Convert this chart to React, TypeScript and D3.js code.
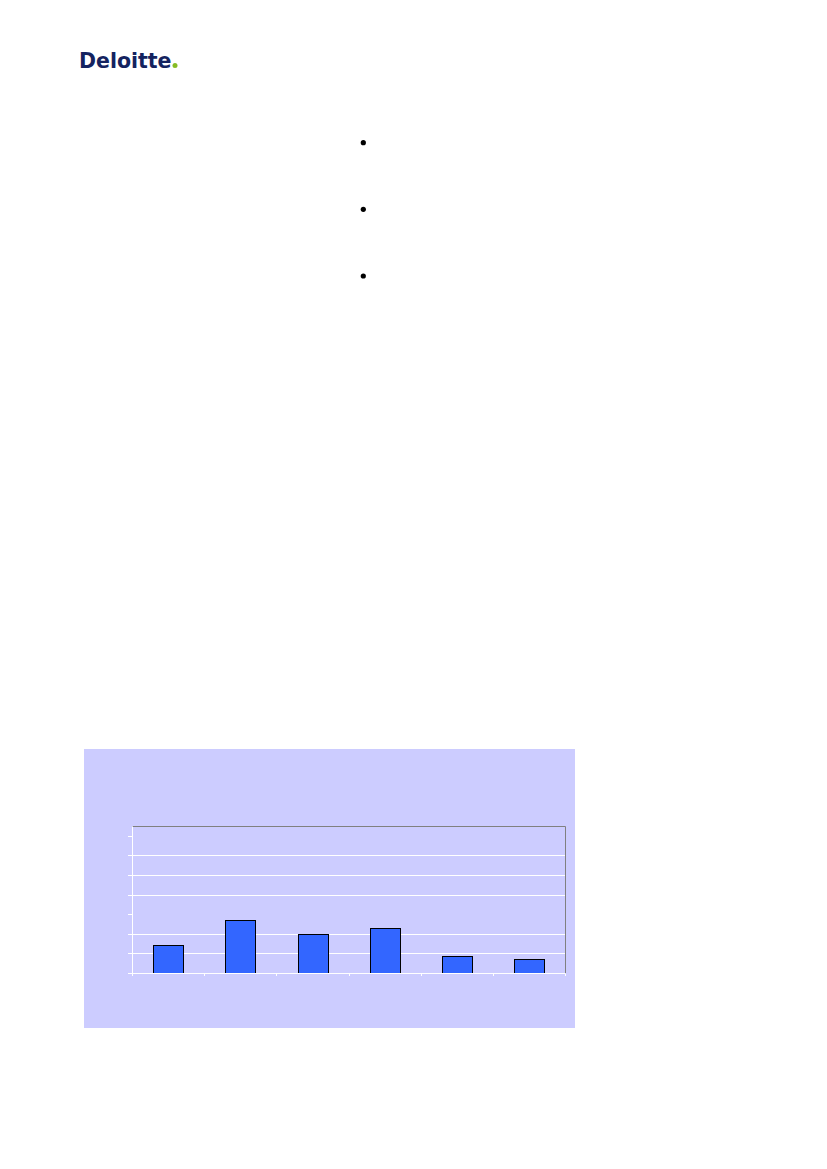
import * as d3 from "d3";

// categories carry no visible labels in the source picture
const categories = ["c1", "c2", "c3", "c4", "c5", "c6"];
const values = [1.44, 2.69, 2.0, 2.28, 0.86, 0.71];
const yTicks = [0, 1, 2, 3, 4, 5, 6, 7];
const gridTicks = [1, 2, 4, 5, 6];
const bulletRows = [0, 1, 2];

const W = 827;
const H = 1169;

export default function App() {
  const box = { x0: 84, y0: 749, x1: 575, y1: 1028 };
  const plot = { left: 132.5, right: 565.5, top: 826.5, bottom: 973.5 };

  const x = d3
    .scaleBand<string>()
    .domain(categories)
    .range([plot.left, plot.right])
    .paddingInner(0.59)
    .paddingOuter(0.295);

  const y = d3.scaleLinear().domain([0, 7.5]).range([plot.bottom, plot.top]);
  const snap = (v: number) => Math.round(v - 0.5) + 0.5;

  const step = x.step();
  const boundaries = d3.range(categories.length + 1).map((i) => plot.left + i * step);

  const bulletY = d3.scaleLinear().domain([0, 2]).range([142.7, 276]);

  return (
    <svg
      width={W}
      height={H}
      style={{ position: "absolute", left: 0, top: 0, background: "#fff" }}
    >
      {/* logo */}
      <text
        x={79}
        y={67.7}
        fontFamily="DejaVu Sans, Arial, sans-serif"
        fontWeight="bold"
        fontSize={21}
        fill="#14235f"
        textLength={92.5}
        lengthAdjust="spacingAndGlyphs"
      >
        Deloitte
      </text>
      <circle cx={175} cy={65.6} r={2.5} fill="#86bc25" />

      {/* bullets */}
      {bulletRows.map((r) => (
        <circle key={r} cx={363.3} cy={bulletY(r)} r={2.6} fill="#000" />
      ))}

      {/* chart area */}
      <rect x={box.x0} y={box.y0} width={box.x1 - box.x0} height={box.y1 - box.y0} fill="#ccccff" />

      {/* gridlines */}
      {gridTicks.map((t) => (
        <line key={t} x1={plot.left} x2={plot.right} y1={snap(y(t))} y2={snap(y(t))} stroke="#fff" strokeWidth={1} />
      ))}

      {/* frame top + right */}
      <path
        d={`M${plot.left},${plot.top}H${plot.right}V${plot.bottom}`}
        fill="none"
        stroke="#808080"
        strokeWidth={1}
      />

      {/* bars */}
      {categories.map((c, i) => (
        <rect
          key={c}
          x={snap(x(c) as number)}
          y={snap(y(values[i]))}
          width={Math.round(x.bandwidth())}
          height={plot.bottom - snap(y(values[i]))}
          fill="#3366ff"
          stroke="#000"
          strokeWidth={1}
        />
      ))}

      {/* y axis */}
      <line x1={plot.left} x2={plot.left} y1={plot.top} y2={plot.bottom + 2} stroke="#fff" strokeWidth={1} />
      {yTicks.map((t) => (
        <line key={t} x1={plot.left - 4.5} x2={plot.left} y1={snap(y(t))} y2={snap(y(t))} stroke="#fff" strokeWidth={1} />
      ))}

      {/* x axis */}
      <line x1={plot.left} x2={plot.right} y1={plot.bottom} y2={plot.bottom} stroke="#fff" strokeWidth={1} />
      {boundaries.map((b, i) => (
        <line key={i} x1={snap(b)} x2={snap(b)} y1={plot.bottom} y2={plot.bottom + 2.5} stroke="#fff" strokeWidth={1} />
      ))}
    </svg>
  );
}
